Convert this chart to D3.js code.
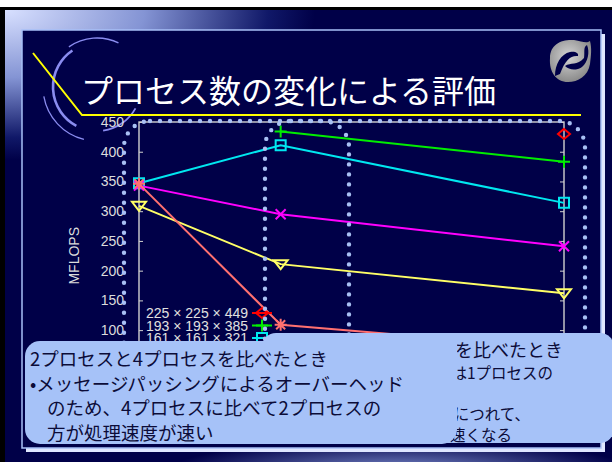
<!DOCTYPE html>
<html>
<head>
<meta charset="utf-8">
<script src="https://cdn.jsdelivr.net/npm/d3@7"></script>
<style>
html, body { margin: 0; padding: 0; background: #fff; }
svg { display: block; }
</style>
</head>
<body>
<svg id="slide" width="612" height="462"></svg>
<script>
// ---- データ ----
var processes = [1, 2, 4];
var gridSizes = ["225 × 225 × 449", "193 × 193 × 385", "161 × 161 × 321",
                 "129 × 129 × 257", "97 × 97 × 193", "65 × 65 × 129"];
var mflops225 = [null, null, 430];
var mflops193 = [null, 434, 383];
var mflops161 = [347, 411, 314];
var mflops129 = [343, 295, 241];
var mflops97  = [309, 211, 162];
var mflops65  = [346, 109, 69];
var yTicks = [0, 50, 100, 150, 200, 250, 300, 350, 400, 450];

var titleText = "プロセス数の変化による評価";
var yLabel = "MFLOPS";
var note1 = ["2プロセスと4プロセスを比べたとき",
             "•メッセージパッシングによるオーバーヘッド",
             "のため、4プロセスに比べて2プロセスの",
             "方が処理速度が速い"];
var note2 = ["1プロセスと2プロセスを比べたとき",
             "•問題サイズが小さい場合は1プロセスの",
             "方が速い",
             "•問題サイズが大きくなるにつれて、",
             "2プロセスの方が速くなる"];

var lineColors = ["#ff0000", "#00ee00", "#00e8f0", "#ff00ff", "#ffff66", "#ff7070"];
var markTypes = ["diamond", "plus", "square", "cross", "triangle", "star"];

var svg = d3.select("#slide");
var navy = "#000048";
var jp = "'Noto Sans CJK JP', 'Noto Sans', sans-serif";
var sans = "'Liberation Sans', Arial, sans-serif";

// ---- 背景 ----
var defs = svg.append("defs");
var glow = defs.append("radialGradient").attr("id", "glow")
	.attr("gradientUnits", "userSpaceOnUse")
	.attr("cx", 0).attr("cy", 0).attr("r", 1)
	.attr("gradientTransform", "translate(5,10) scale(310,150)");
glow.append("stop").attr("offset", 0).attr("stop-color", "#d8e0ff");
glow.append("stop").attr("offset", 0.45).attr("stop-color", "#8494d4");
glow.append("stop").attr("offset", 0.85).attr("stop-color", "#101868");
glow.append("stop").attr("offset", 1).attr("stop-color", navy);

var glow2 = defs.append("radialGradient").attr("id", "glow2")
	.attr("gradientUnits", "userSpaceOnUse")
	.attr("cx", 0).attr("cy", 0).attr("r", 1)
	.attr("gradientTransform", "translate(400,470) scale(230,30)");
glow2.append("stop").attr("offset", 0).attr("stop-color", "#7888c8").attr("stop-opacity", 1);
glow2.append("stop").attr("offset", 1).attr("stop-color", "#7888c8").attr("stop-opacity", 0);

var logoGrad = defs.append("radialGradient").attr("id", "logoGrad")
	.attr("cx", 0.45).attr("cy", 0.4).attr("r", 0.6);
logoGrad.append("stop").attr("offset", 0).attr("stop-color", "#d4d4d4");
logoGrad.append("stop").attr("offset", 1).attr("stop-color", "#8a8a8a");

svg.append("rect").attr("x", 0).attr("y", 7).attr("width", 612).attr("height", 455).attr("fill", "#000");
svg.append("rect").attr("x", 5).attr("y", 10).attr("width", 607).attr("height", 452).attr("fill", navy);
svg.append("rect").attr("x", 5).attr("y", 10).attr("width", 607).attr("height", 452).attr("fill", "url(#glow)");
svg.append("rect").attr("x", 5).attr("y", 440).attr("width", 607).attr("height", 22).attr("fill", "url(#glow2)");

// 枠
svg.append("rect").attr("x", 26).attr("y", 34).attr("width", 579).attr("height", 418).attr("fill", "#dfe6ff");
svg.append("rect").attr("x", 22).attr("y", 30).attr("width", 579).attr("height", 418)
	.attr("fill", navy).attr("stroke", "#a8c0f8").attr("stroke-width", 1.5);

// 飾りの円弧
var arcG = svg.append("g").attr("transform", "translate(97,87)")
	.attr("fill", "none").attr("stroke", "#8a8cf0");
var deg = Math.PI / 180;
function arcPath(r, a0, a1) {
	var p = d3.path();
	p.arc(0, 0, r, a0 * deg - Math.PI / 2, a1 * deg - Math.PI / 2, a1 < a0);
	return p.toString();
}
arcG.append("path").attr("d", arcPath(44, -34, -152)).attr("stroke-width", 2.6);
arcG.append("path").attr("d", arcPath(44, 172, 119)).attr("stroke-width", 1.8);
arcG.append("path").attr("d", arcPath(49, -35, 26)).attr("stroke-width", 1.3);
arcG.append("path").attr("d", arcPath(54, -100, -166)).attr("stroke-width", 1.3);

// 黄色の線
svg.append("path").attr("d", "M33,53L82,115L581,115")
	.attr("fill", "none").attr("stroke", "#ffff00").attr("stroke-width", 2);

// タイトル
svg.append("text").attr("x", 81).attr("y", 103)
	.attr("fill", "#fff").style("font-family", jp).style("font-size", "32px")
	.text(titleText);

// ロゴ
svg.append("path")
	.attr("d", "M550,58C550,44 562,39 574,40C582,41 586,44 590,41C592,48 591,56 590,64C588,76 578,82 568,82C556,82 549,72 550,58Z")
	.attr("fill", "url(#logoGrad)");
svg.append("path").attr("d", "M555,76C555,64 561,54 570,52C575,51 579,53 578,56C571,55 565,60 560,74Z").attr("fill", navy);
svg.append("path").attr("d", "M565,66C571,62 577,66 584,58C585,52 583,47 587,45C590,52 588,62 582,67C576,71 569,70 565,66Z").attr("fill", navy);

// ---- グラフ ----
var x = d3.scaleLinear().domain([1, 4]).range([139, 564]);
var y = d3.scaleLinear().domain([0, 450]).range([389.6, 122]);

var chart = svg.append("g");

chart.append("rect")
	.attr("x", x(1)).attr("y", y(450))
	.attr("width", x(4) - x(1)).attr("height", y(0) - y(450))
	.attr("fill", "none").attr("stroke", "#d0d0d0").attr("stroke-width", 1.4);

var yAxis = chart.append("g").attr("transform", "translate(" + x(1) + ",0)")
	.call(d3.axisLeft(y).tickValues(yTicks).tickSize(-4).tickPadding(15));
yAxis.select(".domain").remove();
yAxis.selectAll("line").attr("stroke", "#d0d0d0");
yAxis.selectAll("text").attr("fill", "#dcdcdc").style("font-family", sans).style("font-size", "14px");

var yAxisR = chart.append("g").attr("transform", "translate(" + x(4) + ",0)")
	.call(d3.axisRight(y).tickValues(yTicks).tickSize(-4).tickFormat(""));
yAxisR.select(".domain").remove();
yAxisR.selectAll("line").attr("stroke", "#d0d0d0");

chart.append("text")
	.attr("transform", "translate(79," + y(225) + ") rotate(-90)")
	.attr("text-anchor", "middle")
	.attr("fill", "#dcdcdc").style("font-family", sans).style("font-size", "14px")
	.text(yLabel);

function markPath(type) {
	switch (type) {
		case "diamond": return "M0,-5L6,0L0,5L-6,0Z";
		case "plus": return "M-6,0H6M0,-6V6";
		case "square": return "M-5,-5H5V5H-5Z";
		case "cross": return "M-5,-5L5,5M-5,5L5,-5";
		case "triangle": return "M-7,-4H7L0,5Z";
		case "star": return "M-6,0H6M0,-6V6M-4.5,-4.5L4.5,4.5M-4.5,4.5L4.5,-4.5";
	}
}

var series = [mflops225, mflops193, mflops161, mflops129, mflops97, mflops65].map(function(vals, i) {
	return {
		name: gridSizes[i],
		color: lineColors[i],
		mark: markTypes[i],
		values: vals.map(function(v, j) { return {p: processes[j], v: v}; })
	};
});

var line = d3.line()
	.defined(function(d) { return d.v != null; })
	.x(function(d) { return x(d.p); })
	.y(function(d) { return y(d.v); });

var sg = chart.selectAll(".series").data(series).enter().append("g").attr("class", "series");
sg.append("path")
	.attr("d", function(d) { return line(d.values); })
	.attr("fill", "none")
	.attr("stroke", function(d) { return d.color; })
	.attr("stroke-width", 2);
sg.each(function(s) {
	d3.select(this).selectAll(".pt")
		.data(s.values.filter(function(d) { return d.v != null; }))
		.enter().append("path")
		.attr("class", "pt")
		.attr("transform", function(d) { return "translate(" + x(d.p) + "," + y(d.v) + ")"; })
		.attr("d", markPath(s.mark))
		.attr("fill", "none")
		.attr("stroke", s.color)
		.attr("stroke-width", 2);
});

// 凡例 (下の3つは吹き出しに隠れる)
var lg = chart.selectAll(".legend").data(series).enter().append("g")
	.attr("class", "legend")
	.attr("transform", function(d, i) { return "translate(0," + (313 + i * 12.5) + ")"; });
lg.append("text").attr("x", 248).attr("y", 5)
	.attr("text-anchor", "end")
	.attr("fill", "#e0e0e0").style("font-family", sans).style("font-size", "14px")
	.text(function(d) { return d.name; });
lg.append("line").attr("x1", 252).attr("x2", 272)
	.attr("stroke", function(d) { return d.color; }).attr("stroke-width", 2);
lg.append("path").attr("transform", "translate(262,0)")
	.attr("d", function(d) { return markPath(d.mark); })
	.attr("fill", "none").attr("stroke", function(d) { return d.color; }).attr("stroke-width", 2);

// 点線の囲み
var dots = svg.append("g").attr("fill", "none")
	.attr("stroke", "#a8c0f4").attr("stroke-width", 4.4)
	.attr("stroke-linecap", "round").attr("stroke-dasharray", "0 10");
dots.append("rect").attr("x", 124).attr("y", 121).attr("width", 461).attr("height", 305).attr("rx", 26);
dots.append("rect").attr("x", 265).attr("y", 121).attr("width", 84).attr("height", 300).attr("rx", 26);

// ---- 吹き出し ----
var callFill = "#a6c2f8";
var textFill = "#0c0c38";
svg.append("rect").attr("x", 262).attr("y", 333).attr("width", 352).attr("height", 110).attr("rx", 14)
	.attr("fill", callFill);
var n2 = svg.append("g").style("font-family", jp).attr("fill", textFill);
n2.append("text").attr("x", 563).attr("y", 357).attr("text-anchor", "end")
	.style("font-size", "18px").text(note2[0]);
var n2Ends = [553, 420, 530, 512];
note2.slice(1).forEach(function(t, i) {
	n2.append("text").attr("x", n2Ends[i]).attr("y", 379 + i * 20.5).attr("text-anchor", "end")
		.style("font-size", "15.5px").text(t);
});

svg.append("rect").attr("x", 25).attr("y", 341).attr("width", 432).attr("height", 103).attr("rx", 15)
	.attr("fill", callFill);
svg.append("rect").attr("x", 400).attr("y", 341).attr("width", 57).attr("height", 30)
	.attr("fill", callFill);
var n1 = svg.append("g").style("font-family", jp).attr("fill", textFill).style("font-size", "18.5px");
note1.forEach(function(t, i) {
	n1.append("text").attr("x", i < 2 ? 30 : 47).attr("y", 366 + i * 24.5).text(t);
});
</script>
</body>
</html>
